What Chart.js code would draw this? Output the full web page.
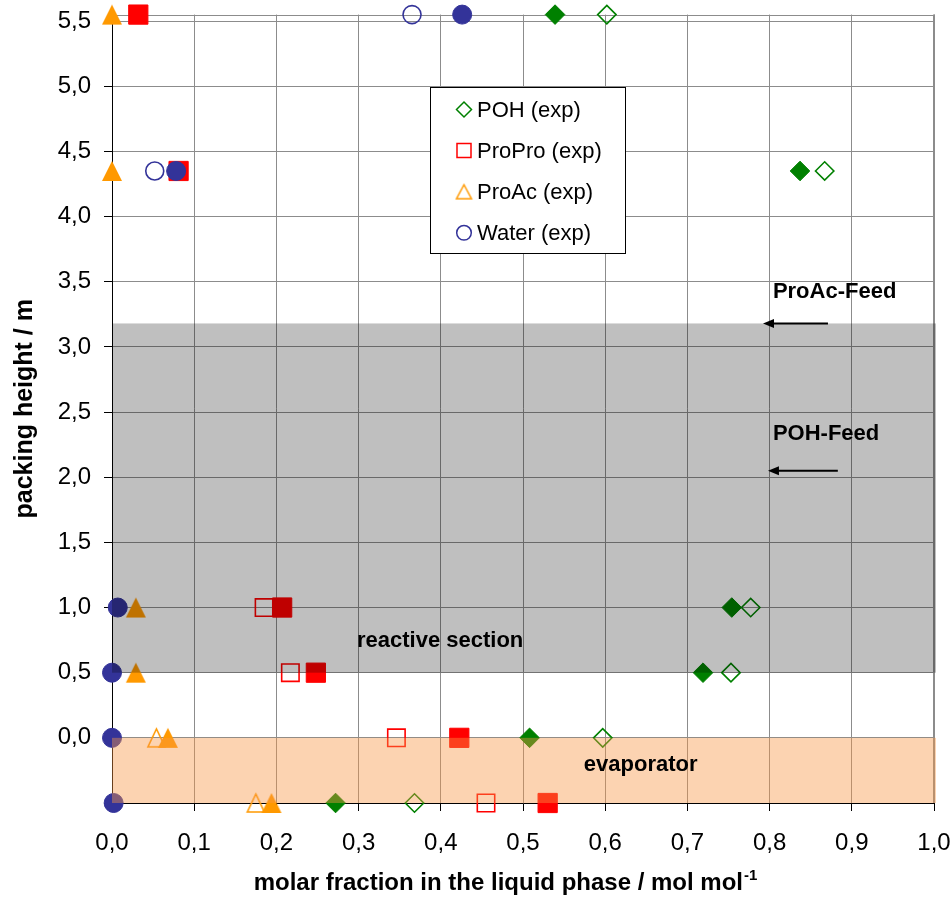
<!DOCTYPE html>
<html>
<head>
<meta charset="utf-8">
<script src="https://cdn.jsdelivr.net/npm/chart.js@4.4.1/dist/chart.umd.min.js"></script>
<style>
  html, body { margin: 0; padding: 0; background: #ffffff; }
  #wrap { width: 952px; height: 906px; position: relative; }
</style>
</head>
<body>
<div id="wrap"><canvas id="chart" width="952" height="906"></canvas></div>
<script>
// Packing heights of the sample points (m)
const heights = [5.55, 4.35, 1.0, 0.5, 0.0, -0.5];

// Liquid-phase molar fractions at each height (null = no point)
const pohExp      = [0.602, 0.867, 0.777, 0.753, 0.597, 0.368];
const pohSolid    = [0.539, 0.837, 0.754, 0.719, 0.508, 0.272];
const proproExp   = [null,  null,  0.185, 0.217, 0.346, 0.455];
const proproSolid = [0.032, 0.081, 0.207, 0.248, 0.4225, 0.530];
const proacExp    = [null,  null,  null,  null,  0.054, 0.175];
const proacSolid  = [0.0,   0.0,   0.029, 0.029, 0.068, 0.194];
const waterExp    = [0.365, 0.052, null,  null,  null,  null];
const waterSolid  = [0.426, 0.078, 0.007, 0.0,   0.0,   0.002];

// Axis ticks
const xTicks = [0, 0.1, 0.2, 0.3, 0.4, 0.5, 0.6, 0.7, 0.8, 0.9, 1.0];
const yTicks = [-0.5, 0, 0.5, 1.0, 1.5, 2.0, 2.5, 3.0, 3.5, 4.0, 4.5, 5.0, 5.5];

// Column sections (height ranges, m)
const reactiveSection = [0.5, 3.18];
const evaporatorSection = [-0.5, 0.0];

// Feed positions: arrow from x0 to x1 at the given height
const feedArrows = [
  { y: 3.18, x0: 0.871, x1: 0.792 },
  { y: 2.05, x0: 0.883, x1: 0.798 }
];
// Text notes placed in data units (left edge, vertical middle)
const notes = [
  { text: 'ProAc-Feed', x: 0.804, y: 3.42 },
  { text: 'POH-Feed', x: 0.804, y: 2.335 },
  { text: 'reactive section', x: 0.298, y: 0.745 },
  { text: 'evaporator', x: 0.574, y: -0.21 }
];

const GREEN = '#008000', RED = '#ff0000', ORANGE = '#ff9900', BLUE = '#333399';
const FONT = "'Liberation Sans', Arial, sans-serif";

function points(xs) {
  const out = [];
  heights.forEach((h, i) => { if (xs[i] !== null) out.push({ x: xs[i], y: h }); });
  return out;
}

// Triangle marker drawn centred in its own box
function triangle(w, h, fill, stroke, lw) {
  const pad = 2;
  const c = document.createElement('canvas');
  c.width = w + 2 * pad; c.height = h + 2 * pad;
  const g = c.getContext('2d');
  g.beginPath();
  g.moveTo(pad + w / 2, pad);
  g.lineTo(pad + w, pad + h);
  g.lineTo(pad, pad + h);
  g.closePath();
  if (fill) { g.fillStyle = fill; g.fill(); }
  if (stroke) { g.strokeStyle = stroke; g.lineWidth = lw; g.lineJoin = 'miter'; g.stroke(); }
  return c;
}
const triFilled = triangle(20, 20, ORANGE, null, 0);
const triHollow = triangle(17, 18, null, ORANGE, 1.6);
const triLegend = triangle(15, 14, null, ORANGE, 1.5);

function filledSet(label, xs, style, radius, color) {
  return {
    label, data: points(xs), inLegend: false,
    pointStyle: style, pointRadius: radius, pointHoverRadius: radius,
    pointBackgroundColor: color, pointBorderColor: color, pointBorderWidth: 1,
    showLine: false, clip: false
  };
}
function hollowSet(label, xs, style, radius, color) {
  return {
    label, data: points(xs), inLegend: true,
    pointStyle: style, pointRadius: radius, pointHoverRadius: radius,
    pointBackgroundColor: 'rgba(0,0,0,0)', pointBorderColor: color, pointBorderWidth: 1.6,
    showLine: false, clip: false
  };
}

// Earlier datasets are painted on top
const datasets = [
  filledSet('Water', waterSolid, 'circle', 9.5, BLUE),
  filledSet('ProAc', proacSolid, triFilled, 10, ORANGE),
  filledSet('ProPro', proproSolid, 'rect', 13.6, RED),
  filledSet('POH', pohSolid, 'rectRot', 9.8, GREEN),
  hollowSet('Water (exp)', waterExp, 'circle', 9, BLUE),
  hollowSet('ProAc (exp)', proacExp, triHollow, 9, ORANGE),
  hollowSet('ProPro (exp)', proproExp, 'rect', 12.3, RED),
  hollowSet('POH (exp)', pohExp, 'rectRot', 9.2, GREEN)
];

// Legend entries, top to bottom
const legendItems = [
  { label: 'POH (exp)', style: 'rectRot', radius: 7.5, color: GREEN },
  { label: 'ProPro (exp)', style: 'rect', radius: 9.9, color: RED },
  { label: 'ProAc (exp)', style: triLegend, radius: 7, color: ORANGE },
  { label: 'Water (exp)', style: 'circle', radius: 7.3, color: BLUE }
];

const fmt = v => v < 0 ? '' : v.toFixed(1).replace('.', ',');

const decorations = {
  id: 'decorations',
  beforeDatasetsDraw(chart) {
    const { ctx, chartArea: a } = chart;
    ctx.save();
    ctx.strokeStyle = '#8c8c8c';
    ctx.lineWidth = 1;
    ctx.beginPath();
    ctx.moveTo(a.left, Math.round(a.top) + 0.5);
    ctx.lineTo(a.right, Math.round(a.top) + 0.5);
    ctx.stroke();
    ctx.lineWidth = 2;
    ctx.beginPath();
    ctx.moveTo(a.right, a.top);
    ctx.lineTo(a.right, a.bottom);
    ctx.stroke();
    ctx.restore();
  },
  afterDatasetsDraw(chart) {
    const { ctx, scales: { x, y } } = chart;
    ctx.save();
    // translucent section bands laid over the markers
    const band = (range, color) => {
      const top = y.getPixelForValue(range[1]);
      const bot = y.getPixelForValue(range[0]);
      const l = x.getPixelForValue(0), r = x.getPixelForValue(1.0) + 2;
      ctx.fillStyle = color;
      ctx.fillRect(l, top, r - l, bot - top);
    };
    band(reactiveSection, 'rgba(0,0,0,0.25)');
    band(evaporatorSection, 'rgba(247,150,70,0.42)');

    // feed arrows
    ctx.strokeStyle = '#000'; ctx.fillStyle = '#000'; ctx.lineWidth = 2;
    feedArrows.forEach(f => {
      const py = y.getPixelForValue(f.y);
      const px0 = x.getPixelForValue(f.x0), px1 = x.getPixelForValue(f.x1);
      ctx.beginPath();
      ctx.moveTo(px0, py); ctx.lineTo(px1 + 8, py); ctx.stroke();
      ctx.beginPath();
      ctx.moveTo(px1, py); ctx.lineTo(px1 + 11, py - 4.5); ctx.lineTo(px1 + 11, py + 4.5);
      ctx.closePath(); ctx.fill();
    });

    // section / feed notes
    ctx.font = 'bold 22px ' + FONT;
    ctx.textAlign = 'left'; ctx.textBaseline = 'middle';
    notes.forEach(n => ctx.fillText(n.text, x.getPixelForValue(n.x), y.getPixelForValue(n.y)));
    ctx.restore();
  },
  afterDraw(chart) {
    const { ctx } = chart;
    ctx.save();
    // legend box
    const bx = 430.5, by = 87.5, bw = 195, bh = 166;
    ctx.fillStyle = '#fff';
    ctx.fillRect(bx, by, bw, bh);
    ctx.strokeStyle = '#000'; ctx.lineWidth = 1;
    ctx.strokeRect(bx, by, bw, bh);
    ctx.font = '22px ' + FONT;
    ctx.textAlign = 'left'; ctx.textBaseline = 'middle';
    legendItems.forEach((it, i) => {
      const cy = 109.5 + i * 41.1;
      ctx.fillStyle = 'rgba(0,0,0,0)';
      ctx.strokeStyle = it.color;
      ctx.lineWidth = 1.5;
      Chart.helpers.drawPoint(ctx, { pointStyle: it.style, radius: it.radius, rotation: 0, borderWidth: 1.5 }, 464, cy);
      ctx.fillStyle = '#000';
      ctx.fillText(it.label, 477, cy + 1);
    });

    // x axis title with superscript unit
    const main = 'molar fraction in the liquid phase / mol mol';
    const sup = '-1';
    ctx.font = 'bold 24px ' + FONT;
    const wMain = ctx.measureText(main).width;
    ctx.font = 'bold 15px ' + FONT;
    const wSup = ctx.measureText(sup).width;
    const cx = 505;
    const startX = cx - (wMain + wSup) / 2;
    const baseY = 890;
    ctx.fillStyle = '#000';
    ctx.textBaseline = 'alphabetic';
    ctx.font = 'bold 24px ' + FONT;
    ctx.fillText(main, startX, baseY);
    ctx.font = 'bold 15px ' + FONT;
    ctx.fillText(sup, startX + wMain + 1, baseY - 10);
    ctx.restore();
  }
};

new Chart(document.getElementById('chart'), {
  type: 'scatter',
  data: { datasets },
  plugins: [decorations],
  options: {
    responsive: false,
    animation: false,
    events: [],
    layout: { padding: { top: 10.7, right: 18, left: 0, bottom: 0 } },
    plugins: { legend: { display: false }, tooltip: { enabled: false } },
    scales: {
      x: {
        type: 'linear', min: 0, max: 1.0,
        afterBuildTicks: s => { s.ticks = xTicks.map(v => ({ value: v })); },
        afterFit: s => { s.height = 103; s.paddingLeft = 0; s.paddingRight = 0; },
        ticks: { callback: fmt, color: '#000', font: { family: FONT, size: 24 }, padding: 18, maxRotation: 0, autoSkip: false },
        grid: { color: '#8c8c8c', lineWidth: 1, tickLength: 8, tickColor: '#000' },
        border: { display: true, color: '#000', width: 1 },
        title: { display: false }
      },
      y: {
        type: 'linear', min: -0.5, max: 5.55,
        afterBuildTicks: s => { s.ticks = yTicks.map(v => ({ value: v })); },
        afterFit: s => { s.width = 112; s.paddingTop = 0; s.paddingBottom = 0; },
        ticks: { callback: fmt, color: '#000', font: { family: FONT, size: 24 }, padding: 13, autoSkip: false },
        grid: { color: '#8c8c8c', lineWidth: 1, tickLength: 8, tickColor: '#000' },
        border: { display: true, color: '#000', width: 1 },
        title: {
          display: true, text: 'packing height / m', color: '#000',
          font: { family: FONT, size: 25, weight: 'bold' }, padding: { top: 10, bottom: 0 }
        }
      }
    }
  }
});
</script>
</body>
</html>
